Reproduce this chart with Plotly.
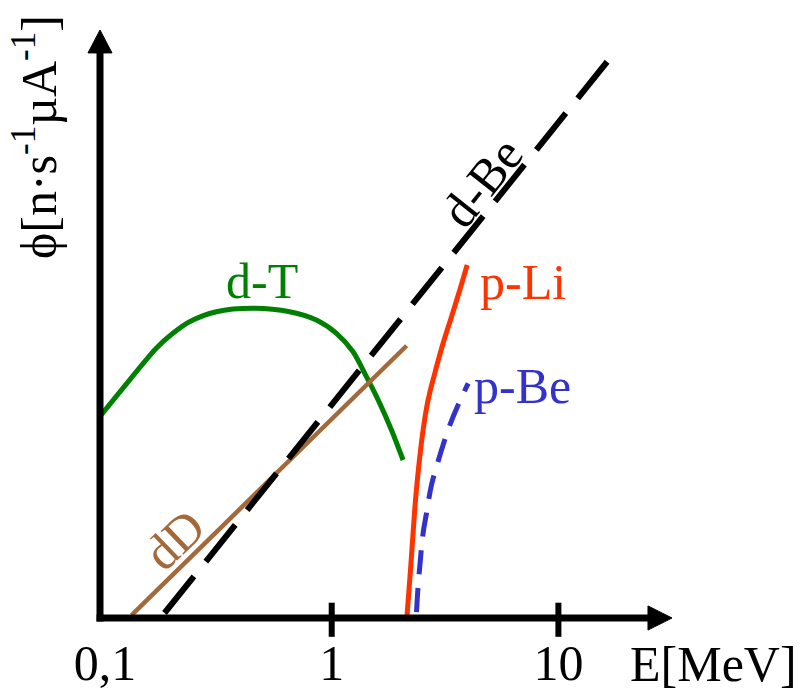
import plotly.graph_objects as go

# ---- data (E in MeV, phi in arbitrary relative units) ----
dBe_E = [0.183, 16.4]
dBe_phi = [0.85, 94.6]

dD_E = [0.131, 2.14]
dD_phi = [0.5, 46.3]

dT_E = [0.0953, 0.1198, 0.1683, 0.1992, 0.2360, 0.3097, 0.4494, 0.6524,
        0.8560, 1.049, 1.242, 1.423, 1.629, 1.835, 2.064]
dT_phi = [34.35, 39.06, 45.87, 48.42, 50.39, 52.09, 52.67, 52.09,
          50.68, 48.42, 45.29, 41.04, 36.51, 31.97, 26.87]

pLi_E = [2.150, 2.226, 2.285, 2.349, 2.429, 2.530, 2.662, 2.849,
         3.100, 3.377, 3.673, 3.958]
pLi_phi = [0.5, 8.16, 14.40, 20.63, 26.31, 31.97, 37.07, 41.62,
           46.72, 51.24, 55.78, 60.03]

pBe_E = [2.366, 2.404, 2.446, 2.530, 2.619, 2.755, 2.900, 3.100,
         3.343, 3.611, 3.999]
pBe_phi = [1.0, 5.32, 8.72, 14.40, 17.81, 22.62, 25.73, 29.42,
           33.11, 36.22, 39.91]

tick_vals = [0.1, 1, 10]
tick_text = ["0,1", "1", "10"]
tick_marks = [1, 10]

FONT = "Liberation Serif, Times New Roman, Times, serif"
GREEN = "#008000"
BROWN = "#A4693A"
RED = "#FF3300"
BLUE = "#3333CC"

fig = go.Figure()
fig.add_trace(go.Scatter(x=dT_E, y=dT_phi, mode="lines", line=dict(color=GREEN, width=5, shape="spline", smoothing=0.8)))
fig.add_trace(go.Scatter(x=dD_E, y=dD_phi, mode="lines", line=dict(color=BROWN, width=4.5)))
fig.add_trace(go.Scatter(x=dBe_E, y=dBe_phi, mode="lines", line=dict(color="black", width=6, dash="47px,19px")))
fig.add_trace(go.Scatter(x=pLi_E, y=pLi_phi, mode="lines", line=dict(color=RED, width=5, shape="spline", smoothing=1.2)))
fig.add_trace(go.Scatter(x=pBe_E, y=pBe_phi, mode="lines", line=dict(color=BLUE, width=5, dash="24px,14px", shape="spline", smoothing=1.2)))

# tick marks crossing the axis
for tv in tick_marks:
    fig.add_shape(type="line", xref="x", yref="y domain", x0=tv, x1=tv, y0=-0.032, y1=0.026,
                  line=dict(color="black", width=6))

# axes with arrowheads
AX = dict(xref="x domain", yref="y domain")
fig.add_shape(type="line", x0=-0.006, x1=0.97, y0=0, y1=0, line=dict(color="black", width=7), **AX)
fig.add_shape(type="line", x0=0, x1=0, y0=-0.006, y1=0.97, line=dict(color="black", width=7), **AX)
fig.add_shape(type="path", path="M 0.958,-0.0205 L 1,0 L 0.958,0.0205 Z",
              fillcolor="black", line=dict(color="black", width=1), **AX)
fig.add_shape(type="path", path="M -0.021,0.961 L 0,1 L 0.021,0.961 Z",
              fillcolor="black", line=dict(color="black", width=1), **AX)

ann = []

def label(txt, x, y, color, angle=0):
    ann.append(dict(xref="x domain", yref="y domain", x=x, y=y, text=txt, showarrow=False,
                    textangle=angle, xanchor="center", yanchor="middle",
                    font=dict(family=FONT, size=50, color=color)))

label("d-T", 0.2832, 0.5731, GREEN)
label("p-Li", 0.7395, 0.5714, RED)
label("p-Be", 0.7386, 0.3946, BLUE)
label("d-Be", 0.6678, 0.7415, "black", -51.6)
label("dD", 0.1294, 0.1327, BROWN, -44)
label("E[MeV]", 1.0734, -0.0782, "black")
label("ϕ[n·s<sup>-1</sup>µA<sup>-1</sup>]", -0.1136, 0.818, "black", -90)

fig.update_layout(
    width=806, height=691,
    margin=dict(l=100, r=134, t=30, b=73, autoexpand=False),
    paper_bgcolor="white", plot_bgcolor="white",
    showlegend=False,
    annotations=ann,
    xaxis=dict(type="log", range=[-1.0221, 1.5011], showgrid=False, zeroline=False,
               showline=False, ticks="", tickvals=tick_vals, ticktext=tick_text,
               ticklabelstandoff=11, automargin=False,
               tickfont=dict(family=FONT, size=50, color="black")),
    yaxis=dict(range=[0, 100], showgrid=False, zeroline=False, showline=False,
               showticklabels=False, ticks="", automargin=False),
)

fig.write_html("out.html")
